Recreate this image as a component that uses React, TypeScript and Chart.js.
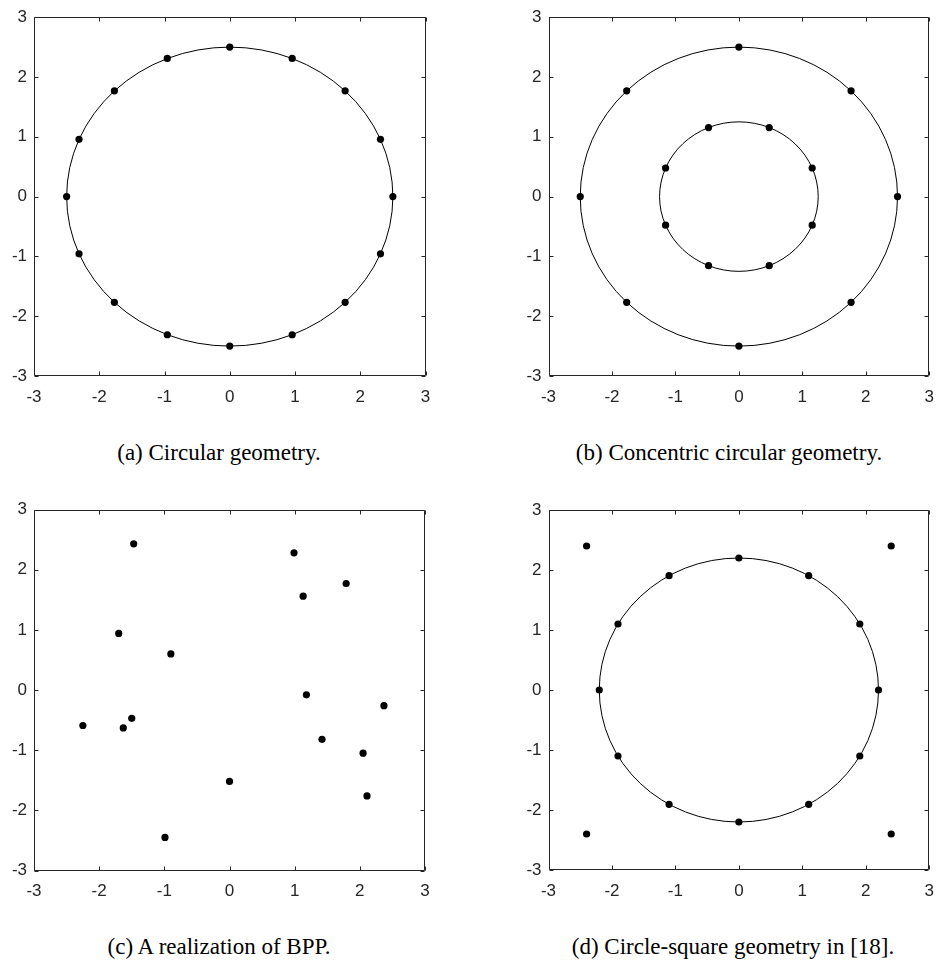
import React, { useEffect, useRef } from "react";
import { Chart, registerables } from "chart.js";

Chart.register(...registerables);

// Axis ticks shared by all four panels
const tickValues = [-3, -2, -1, 0, 1, 2, 3];

// (a) 16 receivers on a circle of radius 2.5
const circularX = [2.5, 2.31, 1.768, 0.957, 0, -0.957, -1.768, -2.31, -2.5, -2.31, -1.768, -0.957, 0, 0.957, 1.768, 2.31];
const circularY = [0, 0.957, 1.768, 2.31, 2.5, 2.31, 1.768, 0.957, 0, -0.957, -1.768, -2.31, -2.5, -2.31, -1.768, -0.957];
const circularRadii = [2.5];

// (b) two concentric rings of 8
const outerRingX = [2.5, 1.768, 0, -1.768, -2.5, -1.768, 0, 1.768];
const outerRingY = [0, 1.768, 2.5, 1.768, 0, -1.768, -2.5, -1.768];
const innerRingX = [1.155, 0.478, -0.478, -1.155, -1.155, -0.478, 0.478, 1.155];
const innerRingY = [0.478, 1.155, 1.155, 0.478, -0.478, -1.155, -1.155, -0.478];
const concentricRadii = [2.5, 1.25];

// (c) one realization of a binomial point process
const bppX = [-1.47, -1.7, -0.9, -2.25, -1.63, -1.5, -0.99, 0, 0.99, 1.79, 1.13, 1.18, 2.37, 1.42, 2.05, 2.11];
const bppY = [2.43, 0.94, 0.6, -0.59, -0.63, -0.47, -2.45, -1.52, 2.28, 1.77, 1.56, -0.08, -0.26, -0.82, -1.05, -1.76];

// (d) 12 on a circle of radius 2.2 plus 4 corner points
const ringX = [2.2, 1.905, 1.1, 0, -1.1, -1.905, -2.2, -1.905, -1.1, 0, 1.1, 1.905];
const ringY = [0, 1.1, 1.905, 2.2, 1.905, 1.1, 0, -1.1, -1.905, -2.2, -1.905, -1.1];
const cornerX = [2.4, -2.4, -2.4, 2.4];
const cornerY = [2.4, 2.4, -2.4, -2.4];
const squareRadii = [2.2];

const captions = [
  "(a) Circular geometry.",
  "(b) Concentric circular geometry.",
  "(c) A realization of BPP.",
  "(d) Circle-square geometry in [18].",
];

const AXIS_COLOR = "#262626";

type Series = { x: number[]; y: number[] };

type PanelProps = {
  series: Series[];
  radii: number[];
  canvas: { left: number; top: number; width: number; height: number };
  area: { left: number; top: number; right: number; bottom: number };
};

// draws circles of given radii centred on the origin, in data units
const circlesPlugin = {
  id: "circles",
  beforeDatasetsDraw(chart: any, _args: any, opts: any) {
    const radii: number[] = opts.radii || [];
    const xs = chart.scales.x;
    const ys = chart.scales.y;
    const ctx = chart.ctx;
    const cx = xs.getPixelForValue(0);
    const cy = ys.getPixelForValue(0);
    ctx.save();
    ctx.strokeStyle = "#000";
    ctx.lineWidth = 1;
    radii.forEach((r) => {
      const rx = xs.getPixelForValue(r) - cx;
      const ry = cy - ys.getPixelForValue(r);
      ctx.beginPath();
      ctx.ellipse(cx, cy, rx, ry, 0, 0, Math.PI * 2);
      ctx.stroke();
    });
    ctx.restore();
  },
};

// box around the plot area with inward ticks on every side
const framePlugin = {
  id: "frame",
  afterDraw(chart: any) {
    const { ctx, chartArea } = chart;
    const xs = chart.scales.x;
    const ys = chart.scales.y;
    const l = Math.round(chartArea.left) + 0.5;
    const r = Math.round(chartArea.right) - 0.5;
    const t = Math.round(chartArea.top) + 0.5;
    const b = Math.round(chartArea.bottom) - 0.5;
    const len = 4;
    ctx.save();
    ctx.strokeStyle = AXIS_COLOR;
    ctx.lineWidth = 1;
    ctx.beginPath();
    ctx.rect(l, t, r - l, b - t);
    tickValues.forEach((v) => {
      const px = Math.round(xs.getPixelForValue(v)) + 0.5;
      ctx.moveTo(px, b);
      ctx.lineTo(px, b - len);
      ctx.moveTo(px, t);
      ctx.lineTo(px, t + len);
      const py = Math.round(ys.getPixelForValue(v)) + 0.5;
      ctx.moveTo(l, py);
      ctx.lineTo(l + len, py);
      ctx.moveTo(r, py);
      ctx.lineTo(r - len, py);
    });
    ctx.stroke();
    ctx.restore();
  },
};

function Panel({ series, radii, canvas, area }: PanelProps) {
  const ref = useRef<HTMLCanvasElement | null>(null);

  useEffect(() => {
    if (!ref.current) return;
    const yAxisWidth = area.left - canvas.left;
    const xAxisHeight = canvas.top + canvas.height - area.bottom;
    const tickFont = { family: "'Liberation Sans', Arial, sans-serif", size: 17 };

    const chart = new Chart(ref.current, {
      type: "scatter",
      data: {
        datasets: series.map((s) => ({
          data: s.x.map((x, i) => ({ x, y: s.y[i] })),
          pointRadius: 3.6,
          pointHoverRadius: 3.6,
          backgroundColor: "#000",
          borderWidth: 0,
        })),
      },
      options: {
        responsive: false,
        animation: false,
        events: [],
        layout: {
          padding: {
            left: 0,
            top: area.top - canvas.top,
            right: canvas.left + canvas.width - area.right,
            bottom: 0,
          },
        },
        plugins: {
          legend: { display: false },
          tooltip: { enabled: false },
          circles: { radii },
        } as any,
        scales: {
          x: {
            type: "linear",
            min: -3,
            max: 3,
            afterBuildTicks: (s: any) => {
              s.ticks = tickValues.map((v) => ({ value: v }));
            },
            afterFit: (s: any) => {
              s.height = xAxisHeight;
            },
            ticks: {
              autoSkip: false,
              maxRotation: 0,
              padding: 11,
              color: AXIS_COLOR,
              font: tickFont,
              callback: (v: any) => String(v),
            },
            grid: { display: false, drawTicks: false },
            border: { display: false },
          },
          y: {
            type: "linear",
            min: -3,
            max: 3,
            afterBuildTicks: (s: any) => {
              s.ticks = tickValues.map((v) => ({ value: v }));
            },
            afterFit: (s: any) => {
              s.width = yAxisWidth;
            },
            ticks: {
              autoSkip: false,
              padding: 7,
              color: AXIS_COLOR,
              font: tickFont,
              callback: (v: any) => String(v),
            },
            grid: { display: false, drawTicks: false },
            border: { display: false },
          },
        },
      },
      plugins: [circlesPlugin, framePlugin],
    });
    return () => chart.destroy();
  }, []);

  return (
    <canvas
      ref={ref}
      width={canvas.width}
      height={canvas.height}
      style={{
        position: "absolute",
        left: canvas.left,
        top: canvas.top,
        width: canvas.width,
        height: canvas.height,
      }}
    />
  );
}

function Caption({ text, cx, baseline }: { text: string; cx: number; baseline: number }) {
  return (
    <div
      style={{
        position: "absolute",
        left: cx - 250,
        width: 500,
        top: baseline - 19.3,
        textAlign: "center",
        fontFamily: "'Liberation Serif', 'Times New Roman', serif",
        fontSize: 23,
        lineHeight: "23px",
        color: "#000",
        whiteSpace: "nowrap",
      }}
    >
      {text}
    </div>
  );
}

export default function App() {
  return (
    <div
      style={{
        position: "absolute",
        left: 0,
        top: 0,
        width: 945,
        height: 962,
        overflow: "hidden",
        background: "#fff",
      }}
    >
      <Panel
        series={[{ x: circularX, y: circularY }]}
        radii={circularRadii}
        canvas={{ left: 0, top: 0, width: 470, height: 430 }}
        area={{ left: 34, top: 13.5, right: 425.5, bottom: 376 }}
      />
      <Panel
        series={[
          { x: outerRingX, y: outerRingY },
          { x: innerRingX, y: innerRingY },
        ]}
        radii={concentricRadii}
        canvas={{ left: 470, top: 0, width: 475, height: 430 }}
        area={{ left: 548.5, top: 15.5, right: 939.5, bottom: 376 }}
      />
      <Panel
        series={[{ x: bppX, y: bppY }]}
        radii={[]}
        canvas={{ left: 0, top: 480, width: 470, height: 440 }}
        area={{ left: 34, top: 509.5, right: 425, bottom: 870.5 }}
      />
      <Panel
        series={[
          { x: ringX, y: ringY },
          { x: cornerX, y: cornerY },
        ]}
        radii={squareRadii}
        canvas={{ left: 470, top: 480, width: 475, height: 440 }}
        area={{ left: 548.5, top: 510, right: 939.5, bottom: 870 }}
      />
      <Caption text={captions[0]} cx={219} baseline={460} />
      <Caption text={captions[1]} cx={729} baseline={460} />
      <Caption text={captions[2]} cx={219} baseline={954} />
      <Caption text={captions[3]} cx={733} baseline={954} />
    </div>
  );
}
